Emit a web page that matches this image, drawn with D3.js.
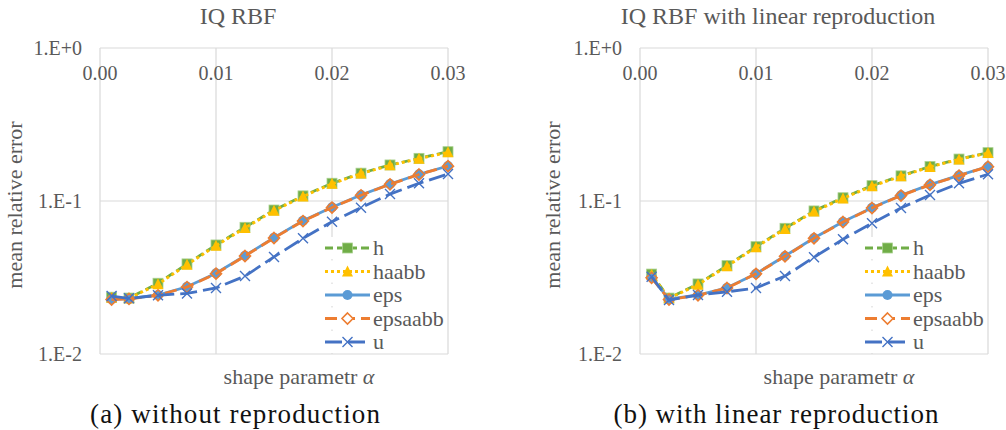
<!DOCTYPE html>
<html><head><meta charset="utf-8">
<script src="https://cdn.jsdelivr.net/npm/d3@7"></script>
<style>body{margin:0;background:#fff}svg{display:block}</style>
</head><body>
<svg id="c" width="1006" height="430"></svg>
<script>
const xValues = [0.001,0.0025,0.005,0.0075,0.01,0.0125,0.015,0.0175,0.02,0.0225,0.025,0.0275,0.03];
const seriesNames = ["h","haabb","eps","epsaabb","u"];
// panel (a) without reproduction
const hA       = [0.0235,0.0232,0.0290,0.0388,0.0516,0.0673,0.0873,0.108,0.1306,0.152,0.172,0.190,0.210];
const haabbA   = [0.0233,0.0231,0.0286,0.0383,0.0510,0.0666,0.0864,0.107,0.1295,0.151,0.171,0.189,0.208];
const epsA     = [0.0228,0.0230,0.0243,0.0275,0.0337,0.0439,0.0576,0.0743,0.0910,0.1095,0.129,0.1495,0.1694];
const epsaabbA = [0.0227,0.0229,0.0242,0.0274,0.0335,0.0437,0.0573,0.0740,0.0906,0.1090,0.1285,0.149,0.169];
const uA       = [0.0239,0.0231,0.0242,0.0249,0.0270,0.0323,0.0431,0.0570,0.0732,0.0904,0.111,0.1305,0.150];
// panel (b) with linear reproduction
const hB       = [0.0333,0.0232,0.0287,0.0378,0.0503,0.0663,0.0861,0.105,0.126,0.146,0.168,0.188,0.207];
const haabbB   = [0.0330,0.0231,0.0284,0.0374,0.0498,0.0657,0.0853,0.104,0.125,0.145,0.167,0.187,0.206];
const epsB     = [0.0317,0.0228,0.0243,0.0271,0.0335,0.0437,0.0573,0.0732,0.0904,0.109,0.128,0.147,0.168];
const epsaabbB = [0.0315,0.0227,0.0242,0.0270,0.0334,0.0435,0.0570,0.0729,0.0900,0.1085,0.1275,0.1465,0.1675];
const uB       = [0.0320,0.0225,0.0243,0.0255,0.0270,0.0323,0.0429,0.0562,0.0715,0.0900,0.1095,0.1305,0.1495];

const xTicks = [0, 0.01, 0.02, 0.03];
const yTicks = [1, 0.1, 0.01];
const yTickLabels = ["1.E+0","1.E-1","1.E-2"];
const titles = ["IQ RBF","IQ RBF with linear reproduction"];
const captions = ["(a) without reproduction","(b) with linear reproduction"];

const styles = {
  h:       {color:"#70AD47", dash:"8,4",  marker:"square"},
  haabb:   {color:"#FFC000", dash:"3,3",  marker:"triangle"},
  eps:     {color:"#5B9BD5", dash:null,   marker:"circle"},
  epsaabb: {color:"#ED7D31", dash:"12,6", marker:"diamond"},
  u:       {color:"#4472C4", dash:"17,6", marker:"x"}
};

const svg = d3.select("#c");
const gray = "#595959";
const font = "'Liberation Serif','Times New Roman',serif";

function marker(g, type, color, x, y){
  if(type==="square"){
    g.append("rect").attr("x",x-5).attr("y",y-5).attr("width",10).attr("height",10)
     .attr("fill",color).attr("stroke","#A9D18E").attr("stroke-width",0.8);
  } else if(type==="triangle"){
    g.append("path").attr("d",`M${x},${y-6}L${x+5.5},${y+5}L${x-5.5},${y+5}Z`).attr("fill",color);
  } else if(type==="circle"){
    g.append("circle").attr("cx",x).attr("cy",y).attr("r",5).attr("fill",color);
  } else if(type==="diamond"){
    g.append("path").attr("d",`M${x},${y-5.5}L${x+5.5},${y}L${x},${y+5.5}L${x-5.5},${y}Z`)
     .attr("fill","none").attr("stroke",color).attr("stroke-width",1.6);
  } else if(type==="x"){
    g.append("path").attr("d",`M${x-5},${y-5}L${x+5},${y+5}M${x+5},${y-5}L${x-5},${y+5}`)
     .attr("stroke",color).attr("stroke-width",1.4).attr("fill","none");
  }
}

function drawPanel(off, data, title, caption, captionX, captionW, yTitleX){
  const g = svg.append("g").attr("transform",`translate(${off},0)`);
  const x = d3.scaleLinear().domain([0,0.03]).range([100,448]);
  const y = d3.scaleLog().domain([0.01,1]).range([354,48]);

  // gridlines
  g.selectAll(".vg").data(xTicks).enter().append("line")
    .attr("x1",d=>x(d)).attr("x2",d=>x(d)).attr("y1",48).attr("y2",354)
    .attr("stroke","#D9D9D9").attr("stroke-width",1.2);
  g.selectAll(".hg").data(yTicks).enter().append("line")
    .attr("x1",100).attr("x2",448).attr("y1",d=>y(d)).attr("y2",d=>y(d))
    .attr("stroke","#D9D9D9").attr("stroke-width",1.2);

  // tick labels
  g.selectAll(".xt").data(xTicks).enter().append("text")
    .attr("x",d=>x(d)).attr("y",80).attr("text-anchor","middle")
    .attr("font-family",font).attr("font-size",20).attr("fill",gray)
    .text(d=>d3.format(".2f")(d));
  g.selectAll(".yt").data(yTicks).enter().append("text")
    .attr("x",82).attr("y",(d)=>y(d)+7).attr("text-anchor","end")
    .attr("font-family",font).attr("font-size",20).attr("fill",gray)
    .text((d,i)=>yTickLabels[i]);

  // title
  g.append("text").attr("x",238).attr("y",24).attr("text-anchor","middle")
    .attr("font-family",font).attr("font-size",24).attr("fill",gray).text(title);

  // axis titles
  const xt = g.append("text").attr("x",299).attr("y",384).attr("text-anchor","middle")
    .attr("font-family",font).attr("font-size",22).attr("fill",gray);
  xt.append("tspan").text("shape parametr  ");
  xt.append("tspan").attr("font-style","italic").text("α");
  g.append("text").attr("transform",`translate(${yTitleX},205) rotate(-90)`)
    .attr("text-anchor","middle").attr("font-family",font).attr("font-size",22)
    .attr("fill",gray).text("mean relative error");

  // series
  const line = d3.line().x((d,i)=>x(xValues[i])).y(d=>y(d));
  seriesNames.forEach((name,si)=>{
    const s = styles[name];
    const vals = data[si];
    g.append("path").datum(vals).attr("d",line).attr("fill","none")
      .attr("stroke",s.color).attr("stroke-width",2.8)
      .attr("stroke-dasharray",s.dash);
    const mg = g.append("g");
    vals.forEach((v,i)=>marker(mg,s.marker,s.color,x(xValues[i]),y(v)));
  });

  // legend
  const ly0 = 248, ldy = 23.5;
  seriesNames.forEach((name,i)=>{
    const s = styles[name];
    const yy = ly0 + i*ldy;
    g.append("rect").attr("x",322).attr("y",yy-11).attr("width",110).attr("height",22).attr("fill","#fff");
    g.append("line").attr("x1",325).attr("x2",370).attr("y1",yy).attr("y2",yy)
      .attr("stroke",s.color).attr("stroke-width",2.8).attr("stroke-dasharray",s.dash);
    const mg = g.append("g");
    if(name==="epsaabb"){
      mg.append("rect").attr("x",342).attr("y",yy-6).attr("width",11).attr("height",12).attr("fill","#fff");
    }
    marker(mg,s.marker,s.color,347.5,yy);
    g.append("text").attr("x",373).attr("y",yy+7).attr("font-family",font)
      .attr("font-size",22).attr("fill",gray).text(name);
  });

  // caption
  svg.append("text").attr("x",captionX).attr("y",423).attr("text-anchor","middle")
    .attr("font-family",font).attr("font-size",27).attr("fill","#111")
    .attr("textLength",captionW).attr("lengthAdjust","spacing").text(caption);
}

drawPanel(0, [hA,haabbA,epsA,epsaabbA,uA], titles[0], captions[0], 235, 290, 22);
drawPanel(540, [hB,haabbB,epsB,epsaabbB,uB], titles[1], captions[1], 776, 325, 20);
</script>
</body></html>
